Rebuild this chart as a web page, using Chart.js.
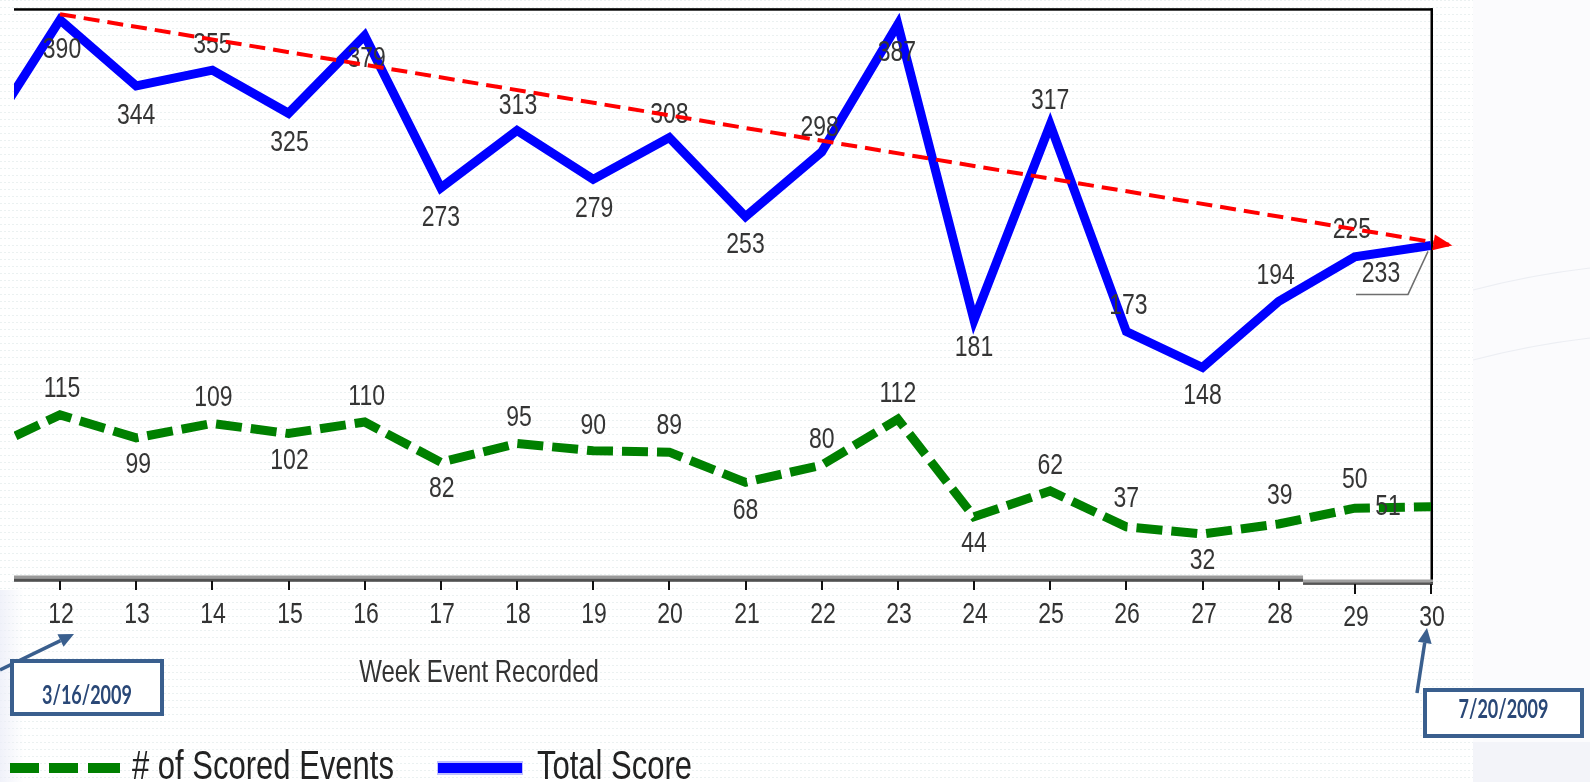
<!DOCTYPE html>
<html>
<head>
<meta charset="utf-8">
<title>Weekly Scored Events and Total Score</title>
<script src="https://cdn.jsdelivr.net/npm/chart.js@4.4.1/dist/chart.umd.min.js"></script>
<style>
  html, body { margin: 0; padding: 0; background: #ffffff; overflow: hidden; }
  canvas { display: block; }
</style>
</head>
<body>
<canvas id="chart" width="1590" height="782"></canvas>
<script>
// ---- data -------------------------------------------------------------
const weeks         = [11, 12, 13, 14, 15, 16, 17, 18, 19, 20, 21, 22, 23, 24, 25, 26, 27, 28, 29, 30];
const scoredEvents  = [90, 115, 99, 109, 102, 110, 82, 95, 90, 89, 68, 80, 112, 44, 62, 37, 32, 39, 50, 51];
const totalScore    = [307, 390, 344, 355, 325, 379, 273, 313, 279, 308, 253, 298, 387, 181, 317, 173, 148, 194, 225, 233];
const labelledWeeks = [12, 13, 14, 15, 16, 17, 18, 19, 20, 21, 22, 23, 24, 25, 26, 27, 28, 29, 30];
const tickWeeks     = [12, 13, 14, 15, 16, 17, 18, 19, 20, 21, 22, 23, 24, 25, 26, 27, 28, 29, 30];
const tickLabels    = ['12', '13', '14', '15', '16', '17', '18', '19', '20', '21', '22', '23', '24', '25', '26', '27', '28', '29', '30'];
const trendWeeks    = [12, 30.28];
const trendValues   = [394, 233];
const xAxisTitle    = 'Week Event Recorded';
const seriesNames   = ['# of Scored Events', 'Total Score'];
const startDate     = '3/16/2009';
const endDate       = '7/20/2009';

// ---- value-label placement (pixel offsets from each point) -------------
const totalLabelOffsets = {
  12: [2, 28], 13: [0, 27], 14: [0, -28], 15: [1, 27], 16: [2, 21], 17: [0, 28],
  18: [1, -27], 19: [1, 27], 20: [0, -25], 21: [0, 26], 22: [-2, -27], 23: [-1, 26],
  24: [0, 25], 25: [0, -26], 26: [2, -28], 27: [0, 26], 28: [-3, -28], 29: [-3, -29],
  30: [-50, 26]
};
const eventLabelOffsets = {
  12: [2, -28], 13: [2, 25], 14: [1, -28], 15: [1, 25], 16: [2, -28], 17: [1, 24],
  18: [2, -28], 19: [0, -27], 20: [0, -29], 21: [0, 26], 22: [0, -28], 23: [0, -28],
  24: [0, 25], 25: [0, -28], 26: [0, -30], 27: [0, 24], 28: [1, -31], 29: [0, -31],
  30: [-43, -2]
};

const W = 1590, H = 782;
const GREEN = '#008000', BLUE = '#0000ff', RED = '#ff0000';
const NAVY = '#3a5f8e', NAVY_TEXT = '#2a4877';
const SANS = '"Liberation Sans", Arial, sans-serif';

// text drawn with the tall, narrow look of the original export
function tallText(ctx, str, x, yMid, o) {
  const size = o.size, sy = o.sy || 1.3, cap = o.cap || 0.716;
  ctx.save();
  ctx.font = (o.weight || 'normal') + ' ' + size + 'px ' + (o.family || SANS);
  ctx.fillStyle = o.color || '#333333';
  ctx.textAlign = o.align || 'center';
  ctx.textBaseline = 'alphabetic';
  ctx.translate(x, yMid + cap * size * sy / 2);
  ctx.scale(1, sy);
  ctx.fillText(str, 0, 0);
  ctx.restore();
}

function arrow(ctx, x0, y0, x1, y1, color, width, headLen, headHalf) {
  const a = Math.atan2(y1 - y0, x1 - x0);
  const bx = x1 - headLen * Math.cos(a), by = y1 - headLen * Math.sin(a);
  ctx.save();
  ctx.strokeStyle = color; ctx.fillStyle = color; ctx.lineWidth = width; ctx.lineCap = 'butt';
  ctx.beginPath(); ctx.moveTo(x0, y0); ctx.lineTo(bx, by); ctx.stroke();
  ctx.beginPath();
  ctx.moveTo(x1, y1);
  ctx.lineTo(bx + headHalf * Math.sin(a), by - headHalf * Math.cos(a));
  ctx.lineTo(bx - headHalf * Math.sin(a), by + headHalf * Math.cos(a));
  ctx.closePath(); ctx.fill();
  ctx.restore();
}

function dateBox(ctx, x, y, w, h, text, textY) {
  ctx.save();
  ctx.fillStyle = '#ffffff'; ctx.fillRect(x, y, w, h);
  ctx.strokeStyle = NAVY; ctx.lineWidth = 4; ctx.strokeRect(x, y, w, h);
  ctx.restore();
  tallText(ctx, text, x + w / 2, textY, { size: 18, sy: 1.5, cap: 0.72, weight: 'bold', family: 'Lato, "Open Sans", sans-serif', color: NAVY_TEXT });
}

const slideDecor = {
  id: 'slideDecor',
  beforeDraw(chart) {
    const ctx = chart.ctx;
    ctx.save();
    ctx.fillStyle = '#ffffff'; ctx.fillRect(0, 0, W, H);
    // slide background beyond the pasted chart
    ctx.fillStyle = '#fbfbfd'; ctx.fillRect(1473, 0, W - 1473, H);
    ctx.fillStyle = '#f3f4f9'; ctx.fillRect(1473, 742, W - 1473, H - 742);
    ctx.strokeStyle = '#eceef3'; ctx.lineWidth = 1.2;
    ctx.beginPath(); ctx.moveTo(1473, 290); ctx.quadraticCurveTo(1530, 275, 1590, 268); ctx.stroke();
    ctx.beginPath(); ctx.moveTo(1473, 360); ctx.quadraticCurveTo(1530, 345, 1590, 338); ctx.stroke();
    // faint dot screen of the chart image
    const pc = document.createElement('canvas'); pc.width = 4; pc.height = 7;
    const p = pc.getContext('2d'); p.fillStyle = '#ebf1f1'; p.fillRect(0, 0, 2, 1);
    ctx.fillStyle = ctx.createPattern(pc, 'repeat');
    ctx.fillRect(0, 0, 1473, H);
    // soft tint at lower left
    const g = ctx.createLinearGradient(0, 0, 24, 0);
    g.addColorStop(0, 'rgba(236,238,248,0.8)'); g.addColorStop(1, 'rgba(236,238,248,0)');
    ctx.fillStyle = g; ctx.fillRect(0, 590, 24, H - 590);
    ctx.restore();
  },
  beforeDatasetsDraw(chart) {
    const ctx = chart.ctx, area = chart.chartArea, x = chart.scales.x;
    const stepX = x.getPixelForValue(28.32);
    ctx.save();
    // top and right frame
    ctx.fillStyle = '#000000';
    ctx.fillRect(area.left, 8.2, area.right + 1.5 - area.left, 2.5);
    ctx.fillRect(area.right - 0.5, 8.2, 2.5, 585 - 8.2);
    // category axis (stepped where two exports were joined)
    ctx.fillStyle = '#9a9a9a'; ctx.fillRect(area.left, 575.5, stepX - area.left, 3);
    ctx.fillStyle = '#505050'; ctx.fillRect(area.left, 578.5, stepX - area.left, 3.3);
    ctx.fillStyle = '#a0a0a0'; ctx.fillRect(stepX, 579.5, area.right + 2 - stepX, 2.8);
    ctx.fillStyle = '#555555'; ctx.fillRect(stepX, 582.3, area.right + 2 - stepX, 2.6);
    // ticks and tick labels
    ctx.fillStyle = '#111111';
    tickWeeks.forEach((w, i) => {
      const px = Math.round(x.getPixelForValue(w));
      const right = px > stepX;
      ctx.fillRect(px - 1, right ? 584 : 581, 2, right ? 10 : 9);
      tallText(ctx, tickLabels[i], px + 1, right ? 615 : 612, { size: 23, sy: 1.3, color: '#333333' });
    });
    ctx.restore();
  },
  afterDatasetDraw(chart, args) {
    if (chart.data.datasets[args.index].label !== seriesNames[1]) return;
    const ctx = chart.ctx, x = chart.scales.x, y = chart.scales.y;
    labelledWeeks.forEach(w => {
      const i = weeks.indexOf(w);
      const px = x.getPixelForValue(w);
      const o1 = eventLabelOffsets[w];
      tallText(ctx, String(scoredEvents[i]), px + o1[0], y.getPixelForValue(scoredEvents[i]) + o1[1], { size: 23, sy: 1.28, color: '#353535' });
      const o2 = totalLabelOffsets[w];
      tallText(ctx, String(totalScore[i]), px + o2[0], y.getPixelForValue(totalScore[i]) + o2[1], { size: 23, sy: 1.28, color: '#353535' });
    });
    // leader for the last total-score label
    const lx = x.getPixelForValue(30), ly = y.getPixelForValue(totalScore[weeks.indexOf(30)]);
    ctx.save();
    ctx.strokeStyle = '#6e6e6e'; ctx.lineWidth = 1.5;
    ctx.beginPath(); ctx.moveTo(lx - 75, ly + 49); ctx.lineTo(lx - 23, ly + 49); ctx.lineTo(lx - 3, ly + 6); ctx.stroke();
    ctx.restore();
  },
  afterDatasetsDraw(chart) {
    const ctx = chart.ctx;
    // arrow head on the trend line
    const meta = chart.getDatasetMeta(2);
    const p0 = meta.data[0], p1 = meta.data[1];
    const a = Math.atan2(p1.y - p0.y, p1.x - p0.x);
    const len = 19, half = 8;
    const bx = p1.x - len * Math.cos(a), by = p1.y - len * Math.sin(a);
    ctx.save();
    ctx.fillStyle = RED;
    ctx.beginPath();
    ctx.moveTo(p1.x, p1.y);
    ctx.lineTo(bx + half * Math.sin(a), by - half * Math.cos(a));
    ctx.lineTo(bx - half * Math.sin(a), by + half * Math.cos(a));
    ctx.closePath(); ctx.fill();
    ctx.restore();

    const xs = chart.scales.x;
    // axis title
    tallText(ctx, xAxisTitle, 479, 671, { size: 24, sy: 1.3, color: '#333333' });

    // legend
    ctx.save();
    ctx.fillStyle = GREEN;
    ctx.fillRect(10, 763, 29, 10);
    ctx.fillRect(49, 763, 29, 10);
    ctx.fillRect(88, 763, 32, 10);
    ctx.fillStyle = 'rgba(0,0,255,0.25)'; ctx.fillRect(437, 761, 86, 14);
    ctx.fillStyle = BLUE; ctx.fillRect(438, 763, 84, 10);
    ctx.restore();
    tallText(ctx, seriesNames[0], 132, 765, { size: 31, sy: 1.3, align: 'left', color: '#222222' });
    tallText(ctx, seriesNames[1], 537, 765, { size: 31, sy: 1.3, align: 'left', color: '#222222' });

    // date call-outs
    const x12 = xs.getPixelForValue(12), x30 = xs.getPixelForValue(30);
    arrow(ctx, 0, 670, x12 + 14, 634, NAVY, 3.5, 15, 7);
    dateBox(ctx, 12, 661, 150, 53, startDate, 694);
    arrow(ctx, x30 - 14, 693, x30 - 4, 628, NAVY, 3.5, 15, 7);
    dateBox(ctx, 1425, 690, 157, 46, endDate, 708);
  }
};

const toPoints = (xs, ys) => xs.map((w, i) => ({ x: w, y: ys[i] }));

new Chart(document.getElementById('chart').getContext('2d'), {
  type: 'line',
  data: {
    datasets: [
      {
        label: seriesNames[0],
        data: toPoints(weeks, scoredEvents),
        borderColor: GREEN, borderWidth: 9, borderDash: [26, 9], borderCapStyle: 'butt',
        pointRadius: 0, tension: 0, clip: 0, order: 2
      },
      {
        label: seriesNames[1],
        data: toPoints(weeks, totalScore),
        borderColor: BLUE, borderWidth: 9, borderJoinStyle: 'miter',
        pointRadius: 0, tension: 0, clip: 0, order: 1
      },
      {
        label: 'trend',
        data: toPoints(trendWeeks, trendValues),
        borderColor: RED, borderWidth: 4, borderDash: [16, 8], borderCapStyle: 'butt',
        pointRadius: 0, tension: 0, clip: false, order: 0
      }
    ]
  },
  options: {
    responsive: false,
    animation: false,
    events: [],
    layout: { padding: { left: 14, right: 159, top: 9, bottom: 202 } },
    scales: {
      x: { type: 'linear', min: 11.396, max: 30, display: false },
      y: { type: 'linear', min: 0, max: 397.6, display: false }
    },
    plugins: { legend: { display: false }, tooltip: { enabled: false } }
  },
  plugins: [slideDecor]
});
</script>
</body>
</html>
